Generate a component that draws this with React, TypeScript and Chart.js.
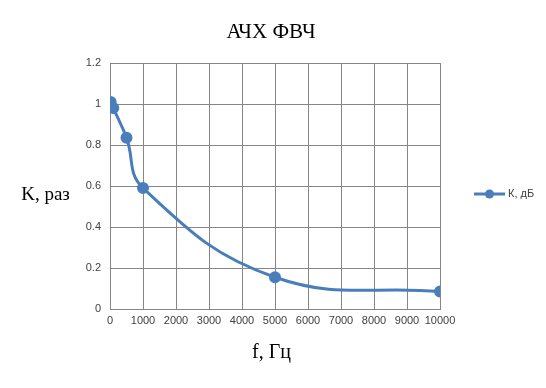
import React, { useEffect, useRef } from "react";
import { Chart, registerables } from "chart.js";

Chart.register(...registerables);

const freqs = [20, 100, 500, 1000, 5000, 10000];
const gains = [1.01, 0.98, 0.835, 0.59, 0.155, 0.085];
const seriesLabel = "К, дБ";
const chartTitle = "АЧХ ФВЧ";
const xTitle = "f, Гц";
const yTitle = "K, раз";

const blue = "#4A7EBB";

const textPlugin = {
  id: "texts",
  afterDraw(chart: any) {
    const ctx = chart.ctx as CanvasRenderingContext2D;
    ctx.save();
    ctx.fillStyle = "#000";
    ctx.font = '21px "Liberation Serif"';
    ctx.textAlign = "center";
    ctx.textBaseline = "middle";
    ctx.fillText(chartTitle, 271, 32);
    ctx.font = '20px "Liberation Serif"';
    ctx.fillText(xTitle, 271.5, 353);
    ctx.font = '19px "Liberation Serif"';
    ctx.fillText(yTitle, 45.5, 195);
    // legend
    ctx.strokeStyle = blue;
    ctx.lineWidth = 3;
    ctx.beginPath();
    ctx.moveTo(474, 194);
    ctx.lineTo(505, 194);
    ctx.stroke();
    ctx.fillStyle = blue;
    ctx.beginPath();
    ctx.arc(489.5, 194, 4.5, 0, Math.PI * 2);
    ctx.fill();
    ctx.fillStyle = "#404040";
    ctx.font = '11px "Liberation Sans"';
    ctx.textAlign = "left";
    ctx.fillText(seriesLabel, 508, 194);
    ctx.restore();
  },
};

export default function App() {
  const ref = useRef<HTMLCanvasElement>(null);
  useEffect(() => {
    if (!ref.current) return;
    const chart = new Chart(ref.current, {
      type: "scatter",
      data: {
        datasets: [
          {
            label: seriesLabel,
            data: freqs.map((f, i) => ({ x: f, y: gains[i] })),
            showLine: true,
            borderColor: blue,
            backgroundColor: blue,
            borderWidth: 3,
            pointRadius: 4.5,
            pointHoverRadius: 4.5,
            tension: 0.42,
          },
        ],
      },
      plugins: [textPlugin],
      options: {
        animation: false,
        responsive: false,
        maintainAspectRatio: false,
        layout: { padding: { top: 63, right: 106, left: 0, bottom: 0 } },
        plugins: {
          legend: { display: false },
          title: { display: false },
          tooltip: { enabled: false },
        },
        scales: {
          x: {
            type: "linear",
            min: 0,
            max: 10000,
            afterFit: (s: any) => {
              s.height = 79;
            },
            ticks: {
              stepSize: 1000,
              padding: 5,
              color: "#404040",
              font: { family: "Liberation Sans", size: 11 },
              callback: (v: any) => String(v),
              maxRotation: 0,
              autoSkip: false,
            },
            grid: { color: "#868686", drawTicks: false, lineWidth: 1 },
            border: { color: "#868686" },
          },
          y: {
            min: 0,
            max: 1.2,
            afterFit: (s: any) => {
              s.width = 110;
            },
            ticks: {
              stepSize: 0.2,
              padding: 9,
              color: "#404040",
              font: { family: "Liberation Sans", size: 11 },
              callback: (v: any) => String(Math.round(Number(v) * 10) / 10),
            },
            grid: { color: "#868686", drawTicks: false, lineWidth: 1 },
            border: { color: "#868686" },
          },
        },
      },
    });
    return () => chart.destroy();
  }, []);
  return (
    <div style={{ position: "fixed", left: 0, top: 0, width: 546, height: 388, background: "#fff" }}>
      <canvas ref={ref} width={546} height={388} style={{ width: 546, height: 388 }} />
    </div>
  );
}
